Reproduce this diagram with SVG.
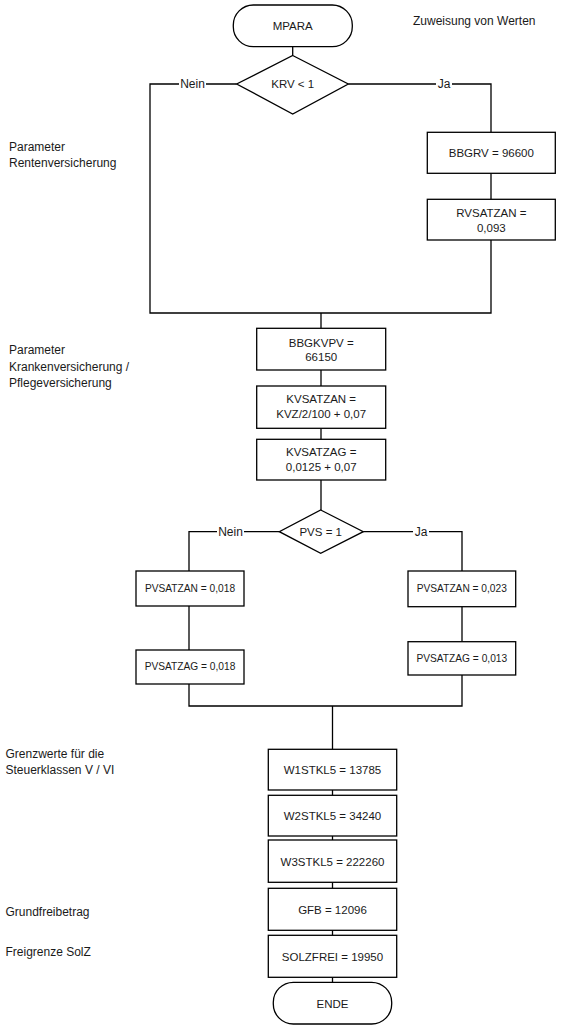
<svg xmlns="http://www.w3.org/2000/svg" width="569" height="1031" viewBox="0 0 569 1031">
<style>
  .shape { fill: #ffffff; stroke: #000000; stroke-width: 1.3; }
  .line { fill: none; stroke: #000000; stroke-width: 1.3; }
  text { font-family: "Liberation Sans", Arial, sans-serif; font-size: 12px; fill: #1a1a1a; }
  .c { text-anchor: middle; dominant-baseline: central; font-size: 11.5px; }
  .s { font-size: 10.2px; }
  .l { text-anchor: start; dominant-baseline: central; }
  .lbl { text-anchor: middle; dominant-baseline: central; font-size: 12px; }
  .bg { fill: #ffffff; stroke: none; }
</style>
<rect x="0" y="0" width="569" height="1031" fill="#ffffff"/>

<g id="connectors">
  <path class="line" d="M292.7,46.7 V55.5"/>
  <path class="line" d="M236.7,84 H150 V313 H491 V240"/>
  <path class="line" d="M348.3,84 H491 V132.3"/>
  <path class="line" d="M491,173.3 V199.3"/>
  <path class="line" d="M321,313 V328.3"/>
  <path class="line" d="M321,370 V386"/>
  <path class="line" d="M321,428.3 V439.3"/>
  <path class="line" d="M321,480 V510"/>
  <path class="line" d="M279.3,531.7 H189 V571"/>
  <path class="line" d="M363.3,531.7 H462 V571"/>
  <path class="line" d="M189,606 V650"/>
  <path class="line" d="M462,606.7 V641.7"/>
  <path class="line" d="M189,684 V706 H462 V675"/>
  <path class="line" d="M332.5,706 V749.3"/>
  <path class="line" d="M332.5,790 V795.3"/>
  <path class="line" d="M332.5,836 V840"/>
  <path class="line" d="M332.5,882.3 V888.3"/>
  <path class="line" d="M332.5,930.3 V935.3"/>
  <path class="line" d="M332.5,977.3 V982.3"/>
  <rect class="bg" x="179" y="77" width="27" height="14"/>
  <text class="lbl" x="192.5" y="84">Nein</text>
  <rect class="bg" x="436" y="77" width="16" height="14"/>
  <text class="lbl" x="444" y="84">Ja</text>
  <rect class="bg" x="217" y="525" width="27" height="14"/>
  <text class="lbl" x="230.5" y="531.7">Nein</text>
  <rect class="bg" x="413" y="525" width="16" height="14"/>
  <text class="lbl" x="421" y="531.7">Ja</text>
</g>

<g id="annotations">
  <text class="l" x="413" y="21">Zuweisung von Werten</text>
  <text class="l" x="9" y="147">Parameter</text>
  <text class="l" x="9" y="163">Rentenversicherung</text>
  <text class="l" x="9" y="350">Parameter</text>
  <text class="l" x="9" y="366.5">Krankenversicherung /</text>
  <text class="l" x="9" y="382.5">Pflegeversicherung</text>
  <text class="l" x="5.5" y="754">Grenzwerte für die</text>
  <text class="l" x="5.5" y="770">Steuerklassen V / VI</text>
  <text class="l" x="5.5" y="912">Grundfreibetrag</text>
  <text class="l" x="5.5" y="952">Freigrenze SolZ</text>
</g>

<g id="node-mpara">
  <rect class="shape" x="233.3" y="5" width="119" height="41.7" rx="20" ry="20"/>
  <text class="c" x="292.7" y="26">MPARA</text>
</g>
<g id="node-krv">
  <polygon class="shape" points="292.7,55.5 348.3,84 292.7,114 236.7,84"/>
  <text class="c" x="292.7" y="84">KRV &lt; 1</text>
</g>
<g id="node-bbgrv">
  <rect class="shape" x="427.3" y="132.3" width="128" height="41"/>
  <text class="c" x="491.3" y="152.7">BBGRV = 96600</text>
</g>
<g id="node-rvsatzan">
  <rect class="shape" x="427.3" y="199.3" width="128" height="40.7"/>
  <text class="c" x="491.3" y="213.3">RVSATZAN =</text>
  <text class="c" x="491.3" y="227.7">0,093</text>
</g>
<g id="node-bbgkvpv">
  <rect class="shape" x="256.7" y="328.3" width="129" height="41.7"/>
  <text class="c" x="321.2" y="342.7">BBGKVPV =</text>
  <text class="c" x="321.2" y="357.3">66150</text>
</g>
<g id="node-kvsatzan">
  <rect class="shape" x="256.7" y="386" width="129" height="42.3"/>
  <text class="c" x="321.2" y="399.3">KVSATZAN =</text>
  <text class="c" x="321.2" y="414.3">KVZ/2/100 + 0,07</text>
</g>
<g id="node-kvsatzag">
  <rect class="shape" x="256.7" y="439.3" width="129" height="40.7"/>
  <text class="c" x="321.2" y="452.3">KVSATZAG =</text>
  <text class="c" x="321.2" y="466.7">0,0125 + 0,07</text>
</g>
<g id="node-pvs">
  <polygon class="shape" points="320.7,510 363.3,531.7 320.7,553.3 279.3,531.7"/>
  <text class="c" x="320.7" y="531.7">PVS = 1</text>
</g>
<g id="node-pvsatzan-nein">
  <rect class="shape" x="136" y="571" width="108" height="35"/>
  <text class="c s" x="190" y="588.3">PVSATZAN = 0,018</text>
</g>
<g id="node-pvsatzag-nein">
  <rect class="shape" x="136" y="650" width="108" height="34"/>
  <text class="c s" x="190" y="666.7">PVSATZAG = 0,018</text>
</g>
<g id="node-pvsatzan-ja">
  <rect class="shape" x="408" y="571" width="107.7" height="35.7"/>
  <text class="c s" x="461.8" y="588.3">PVSATZAN = 0,023</text>
</g>
<g id="node-pvsatzag-ja">
  <rect class="shape" x="408" y="641.7" width="107.7" height="33.3"/>
  <text class="c s" x="461.8" y="658.3">PVSATZAG = 0,013</text>
</g>
<g id="node-w1stkl5">
  <rect class="shape" x="268.3" y="749.3" width="128.4" height="40.7"/>
  <text class="c" x="332.5" y="770">W1STKL5 = 13785</text>
</g>
<g id="node-w2stkl5">
  <rect class="shape" x="268.3" y="795.3" width="128.4" height="40.7"/>
  <text class="c" x="332.5" y="816">W2STKL5 = 34240</text>
</g>
<g id="node-w3stkl5">
  <rect class="shape" x="268.3" y="840" width="128.4" height="42.3"/>
  <text class="c" x="332.5" y="861.7">W3STKL5 = 222260</text>
</g>
<g id="node-gfb">
  <rect class="shape" x="268.3" y="888.3" width="128.4" height="42"/>
  <text class="c" x="332.5" y="910">GFB = 12096</text>
</g>
<g id="node-solzfrei">
  <rect class="shape" x="268.3" y="935.3" width="128.4" height="42"/>
  <text class="c" x="332.5" y="956.7">SOLZFREI = 19950</text>
</g>
<g id="node-ende">
  <rect class="shape" x="273.3" y="982.3" width="118.4" height="41.7" rx="20" ry="20"/>
  <text class="c" x="332.5" y="1004">ENDE</text>
</g>
</svg>
